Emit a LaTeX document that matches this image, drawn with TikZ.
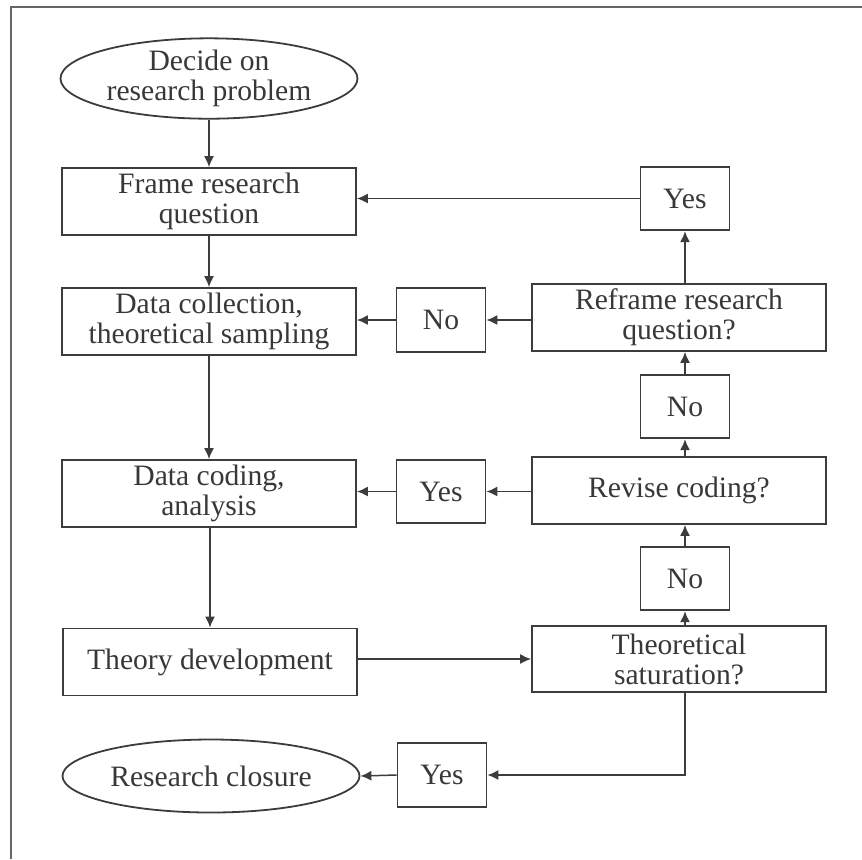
\documentclass[tikz,border=0pt]{standalone}
\usepackage{fontspec}
\setmainfont{Liberation Serif}
\usetikzlibrary{shapes.geometric,arrows.meta}

\definecolor{inkline}{HTML}{3C3C3C}
\definecolor{inktext}{HTML}{383838}

\begin{document}
\begin{tikzpicture}[x=0.5pt,y=-0.5pt,
  txt/.style={text=inktext, font=\fontsize{14.8}{15}\selectfont, align=center, inner sep=0pt},
  bigbox/.style={txt, draw=inkline, line width=0.9pt, rectangle, minimum width=147pt, minimum height=33.5pt},
  smallbox/.style={txt, draw=inkline, line width=0.9pt, rectangle, minimum width=44.5pt, minimum height=31.75pt},
  terminal/.style={txt, draw=inkline, line width=0.9pt, ellipse, minimum width=148.5pt, minimum height=36pt},
  link/.style={draw=inkline, line width=0.75pt, -{Latex[length=5.5pt,width=5pt]}}]

  % page extent
  \useasboundingbox (0,0) rectangle (862,859);

  % open frame (top and left rules)
  \draw[black!60, line width=1pt] (10,7) -- (862,7);
  \draw[black!60, line width=1pt] (11,7) -- (11,859);

  % main sequence on the left
  \node[terminal] (decide)  at (209,78.5) {Decide on\\research problem};
  \node[bigbox]   (frame)   at (209,201.5) {Frame research\\question};
  \node[bigbox]   (collect) at (209,321.5) {Data collection,\\theoretical sampling};
  \node[bigbox]   (coding)  at (209,493.5) {Data coding,\\analysis};
  \node[bigbox]   (theory)  at (210,662) {Theory development};
  \node[terminal, minimum height=36.5pt] (closure) at (211,776) {Research closure};

  % decision boxes on the right
  \node[bigbox] (reframe)    at (679,317.5) {Reframe research\\question?};
  \node[bigbox] (revise)     at (679,490.5) {Revise coding?};
  \node[bigbox, minimum height=33pt] (saturation) at (679,659) {Theoretical\\saturation?};

  % answer boxes
  \node[smallbox] (yesA) at (685,198.5) {Yes};
  \node[smallbox] (noB)  at (685,406.5) {No};
  \node[smallbox] (noC)  at (685,578.5) {No};
  \node[smallbox] (noA)  at (441,320) {No};
  \node[smallbox] (yesB) at (441,491.5) {Yes};
  \node[smallbox] (yesC) at (442,775) {Yes};

  % left column flow
  \draw[link] (decide.south) -- (frame.north);
  \draw[link] (frame.south) -- (collect.north);
  \draw[link] (collect.south) -- (coding.north);
  \draw[link] (coding.south -| theory.north) -- (theory.north);
  \draw[link] (theory.east |- saturation.west) -- (saturation.west);

  % loop back through the decisions
  \draw[link] (noC.south |- saturation.north) -- (noC.south);
  \draw[link] (noC.north) -- (noC.north |- revise.south);
  \draw[link] (noB.south |- revise.north) -- (noB.south);
  \draw[link] (noB.north) -- (noB.north |- reframe.south);
  \draw[link] (yesA.south |- reframe.north) -- (yesA.south);
  \draw[link] (yesA.west) -- (frame.east |- yesA.west);

  \draw[link] (reframe.west |- noA.east) -- (noA.east);
  \draw[link] (noA.west) -- (collect.east |- noA.west);
  \draw[link] (revise.west |- yesB.east) -- (yesB.east);
  \draw[link] (yesB.west) -- (coding.east |- yesB.west);

  % exit on saturation
  \draw[link] (noC.south |- saturation.south) |- (yesC.east);
  \draw[link] (yesC.west) -- (closure.east);
\end{tikzpicture}
\end{document}
